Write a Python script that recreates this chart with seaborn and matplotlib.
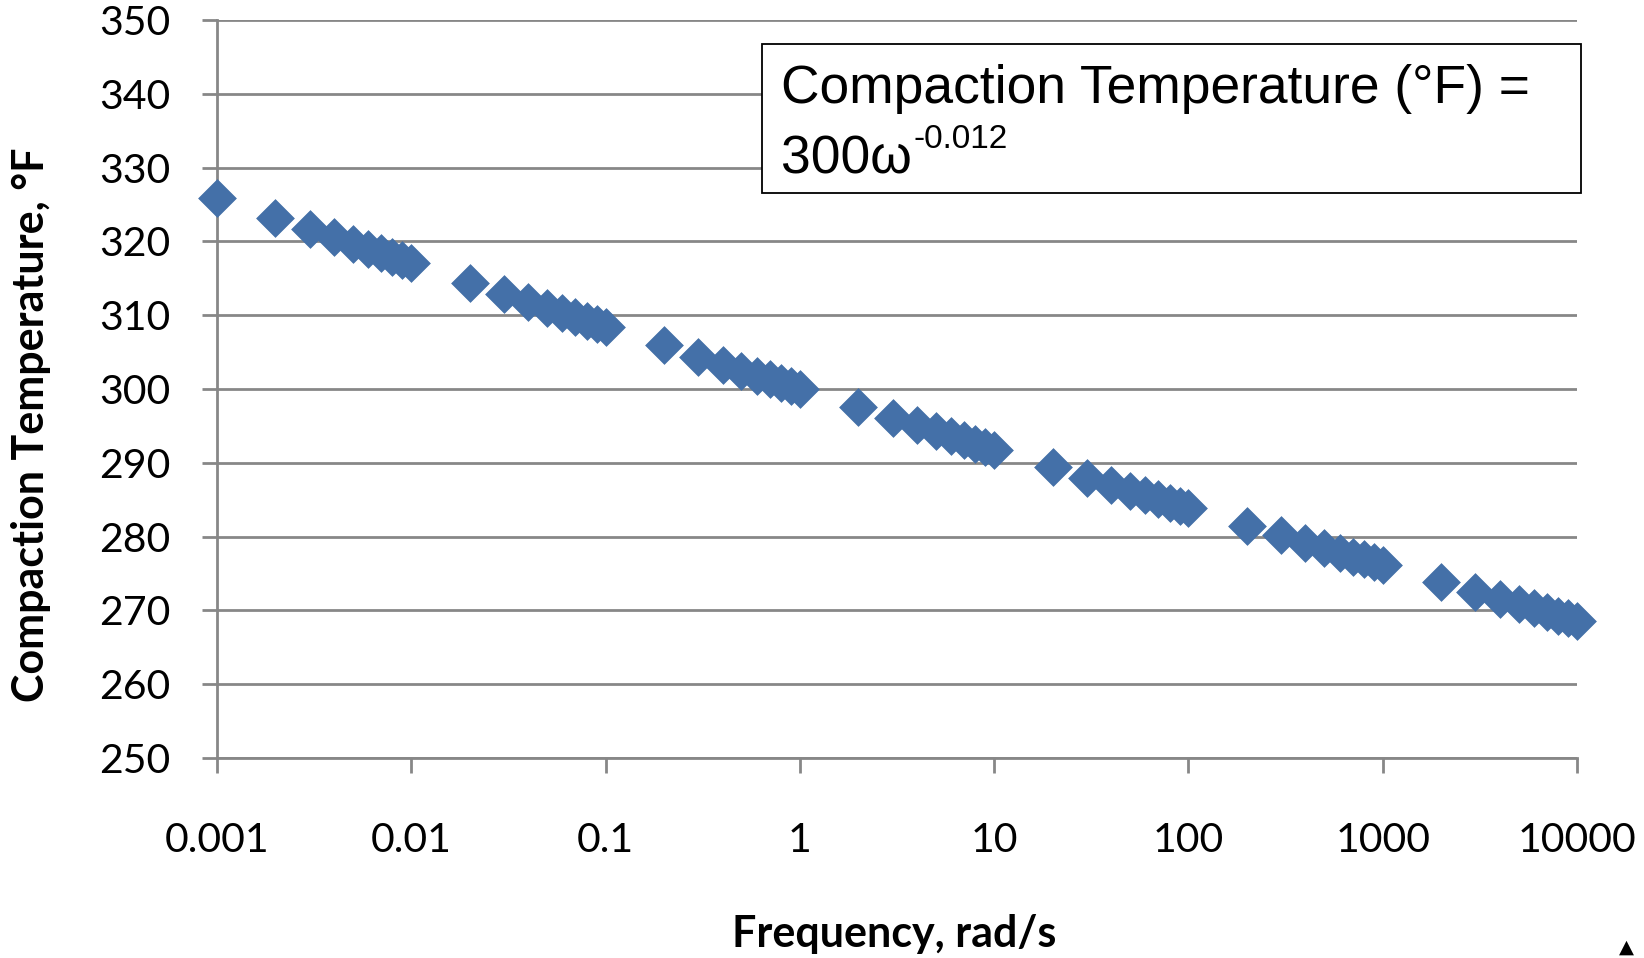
import matplotlib
matplotlib.use("Agg")
import matplotlib.pyplot as plt
import seaborn as sns

# ---- data ----
frequency = [0.001, 0.002, 0.003, 0.004, 0.005, 0.006, 0.007, 0.008, 0.009,
             0.01, 0.02, 0.03, 0.04, 0.05, 0.06, 0.07, 0.08, 0.09,
             0.1, 0.2, 0.3, 0.4, 0.5, 0.6, 0.7, 0.8, 0.9,
             1, 2, 3, 4, 5, 6, 7, 8, 9,
             10, 20, 30, 40, 50, 60, 70, 80, 90,
             100, 200, 300, 400, 500, 600, 700, 800, 900,
             1000, 2000, 3000, 4000, 5000, 6000, 7000, 8000, 9000,
             10000]
temperature = [325.9, 323.2, 321.7, 320.6, 319.7, 319.0, 318.4, 317.9, 317.5,
               317.1, 314.4, 312.9, 311.8, 311.0, 310.3, 309.7, 309.2, 308.8,
               308.4, 305.9, 304.4, 303.3, 302.5, 301.8, 301.3, 300.8, 300.4,
               300.0, 297.5, 296.1, 295.1, 294.3, 293.6, 293.1, 292.6, 292.2,
               291.8, 289.4, 288.0, 287.0, 286.2, 285.6, 285.1, 284.6, 284.2,
               283.9, 281.5, 280.2, 279.2, 278.4, 277.8, 277.3, 276.9, 276.5,
               276.1, 273.8, 272.5, 271.6, 270.9, 270.3, 269.8, 269.3, 269.0,
               268.6]
x_ticks = [0.001, 0.01, 0.1, 1, 10, 100, 1000, 10000]
x_tick_labels = ["0.001", "0.01", "0.1", "1", "10", "100", "1000", "10000"]
y_ticks = [250, 260, 270, 280, 290, 300, 310, 320, 330, 340, 350]
y_tick_labels = ["250", "260", "270", "280", "290", "300", "310", "320", "330", "340", "350"]
x_label = "Frequency, rad/s"
y_label = "Compaction Temperature, °F"
eq_line1 = "Compaction Temperature (°F) ="
eq_line2 = "300ω"
eq_exp = "-0.012"

sns.set_theme(style="white")
plt.rcParams["font.family"] = ["Lato", "DejaVu Sans"]
plt.rcParams["text.color"] = "black"

W, H = 1644, 958
fig = plt.figure(figsize=(W / 100, H / 100), dpi=100)

def fx(px):
    return px / W

def fy(py):
    return 1 - py / H

ax = fig.add_axes([fx(217), fy(758), fx(1577) - fx(217), fy(20) - fy(758)])

grid_c = "#878787"
blue = "#4470A8"

sns.scatterplot(x=frequency, y=temperature, marker="D", s=370, color=blue,
                edgecolor=blue, linewidth=0.5, clip_on=False, ax=ax, zorder=3)

ax.set_xscale("log")
ax.set_xlim(0.001, 10000)
ax.set_ylim(250, 350)
ax.set_xticks(x_ticks)
ax.set_xticklabels(x_tick_labels)
ax.xaxis.set_minor_locator(matplotlib.ticker.NullLocator())
ax.set_yticks(y_ticks)
ax.set_yticklabels(y_tick_labels)

ax.set_axisbelow(True)
ax.yaxis.grid(True, color=grid_c, linewidth=2.0)
ax.xaxis.grid(False)
for side in ["top", "right"]:
    ax.spines[side].set_visible(False)
for side in ["left", "bottom"]:
    ax.spines[side].set_color(grid_c)
    ax.spines[side].set_linewidth(2.0)

ax.tick_params(axis="both", which="major", direction="out", length=10.8,
               width=2.0, color=grid_c, labelsize=29.5, labelcolor="black")
ax.tick_params(axis="y", pad=23, left=True)
ax.tick_params(axis="x", pad=35, bottom=True)
ax.set_xlabel("")
ax.set_ylabel("")

# axis titles
fig.text(fx(894), fy(934), x_label, ha="center", va="center", color="black",
         fontsize=31, fontweight="bold", family=["Lato", "DejaVu Sans"])
fig.text(fx(31), fy(425), y_label, ha="center", va="center", rotation=90,
         color="black", fontsize=31, fontweight="bold", family=["Lato", "DejaVu Sans"])

# equation box
box = matplotlib.patches.Rectangle((fx(762), fy(193)), fx(1581) - fx(762), fy(44) - fy(193),
                                   transform=fig.transFigure, facecolor="white",
                                   edgecolor="black", linewidth=1.3, zorder=5)
fig.patches.append(box)
fam = ["Liberation Sans", "DejaVu Sans"]
fig.text(fx(781), fy(103), eq_line1, ha="left", va="baseline", fontsize=38.4,
         family=fam, color="black", zorder=6)
t2 = fig.text(fx(781), fy(173), eq_line2, ha="left", va="baseline", fontsize=38.4,
              family=fam, color="black", zorder=6)
fig.canvas.draw()
fig.add_artist(matplotlib.text.Annotation(
    eq_exp, xy=(1.0, fy(148)), xycoords=(t2, "figure fraction"),
    xytext=(2, 0), textcoords="offset pixels", ha="left", va="baseline",
    fontsize=24, family=fam, color="black", zorder=6))

# small marker at bottom-right corner
fig.text(fx(1626), fy(957), "▲", ha="center", va="bottom", fontsize=14,
         family=["DejaVu Sans"], color="black")

fig.savefig("out.png", dpi=100)
